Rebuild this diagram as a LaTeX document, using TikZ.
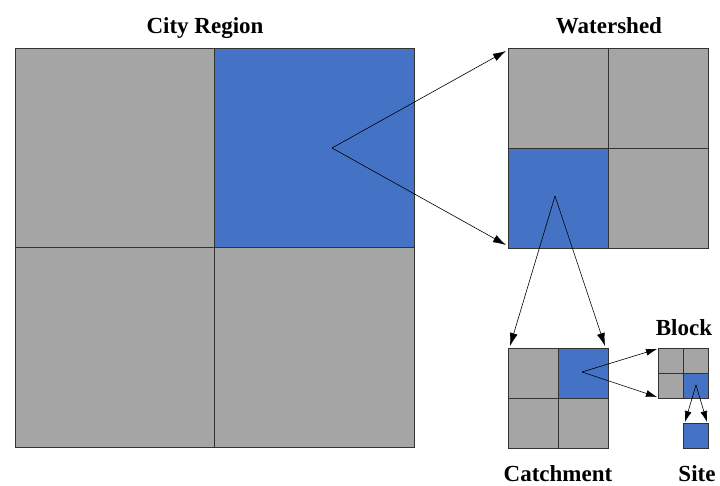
\documentclass[tikz,border=0pt]{standalone}
\usepackage{fontspec}
\setmainfont{Liberation Serif}
\usetikzlibrary{arrows.meta}
\definecolor{cellgray}{RGB}{165,165,165}
\definecolor{cellblue}{RGB}{68,114,196}
\begin{document}
\begin{tikzpicture}[x=1pt,y=-1pt,
  cell/.style={draw=black!80, line width=0.7pt, minimum size=#1, inner sep=0pt, outer sep=0pt, anchor=north west},
  g/.style={fill=cellgray},
  b/.style={fill=cellblue},
  arr/.style={-{Latex[length=13pt,width=8pt]}, line width=0.6pt, black},
  sarr/.style={-{Latex[length=11pt,width=7pt]}, line width=0.6pt, black},
  lbl/.style={font=\fontsize{23}{26}\selectfont\bfseries, anchor=base, inner sep=0pt}]
\useasboundingbox (0,0) rectangle (720,485);
% City region
\node[cell=199.5pt,g] (cr1) at (15,48) {};
\node[cell=199.5pt,b] (cr2) at (214.5,48) {};
\node[cell=199.5pt,g] (cr3) at (15,247.5) {};
\node[cell=199.5pt,g] (cr4) at (214.5,247.5) {};
% Watershed
\node[cell=100pt,g] (ws1) at (508,48) {};
\node[cell=100pt,g] (ws2) at (608,48) {};
\node[cell=100pt,b] (ws3) at (508,148) {};
\node[cell=100pt,g] (ws4) at (608,148) {};
% Catchment
\node[cell=50pt,g] (ct1) at (508,348) {};
\node[cell=50pt,b] (ct2) at (558,348) {};
\node[cell=50pt,g] (ct3) at (508,398) {};
\node[cell=50pt,g] (ct4) at (558,398) {};
% Block
\node[cell=25pt,g] (bk1) at (658,348) {};
\node[cell=25pt,g] (bk2) at (683,348) {};
\node[cell=25pt,g] (bk3) at (658,373) {};
\node[cell=25pt,b] (bk4) at (683,373) {};
% Site
\node[cell=25pt,b] (st) at (683,423) {};
% Labels
\node[lbl] (lcity) at (205,33) {City Region};
\node[lbl] (lws) at (609,33) {Watershed};
\node[lbl] (lbk) at (684,335) {Block};
\node[lbl] (lct) at (558,481) {Catchment};
\node[lbl] (lst) at (697,481) {Site};
% Arrow origins and targets
\coordinate (o1) at (332,148);
\coordinate (t1a) at (506,51);
\coordinate (t1b) at (506,245);
\coordinate (o2) at (555,196);
\coordinate (t2a) at (510,346);
\coordinate (t2b) at (605,346);
\coordinate (o3) at (582,372);
\coordinate (t3a) at (657,349);
\coordinate (t3b) at (657,397);
\coordinate (o4) at (696,385);
\coordinate (t4a) at (685,422);
\coordinate (t4b) at (707,422);
\draw[arr] (o1) -- (t1a);
\draw[arr] (o1) -- (t1b);
\draw[arr] (o2) -- (t2a);
\draw[arr] (o2) -- (t2b);
\draw[sarr] (o3) -- (t3a);
\draw[sarr] (o3) -- (t3b);
\draw[sarr] (o4) -- (t4a);
\draw[sarr] (o4) -- (t4b);
\end{tikzpicture}
\end{document}
